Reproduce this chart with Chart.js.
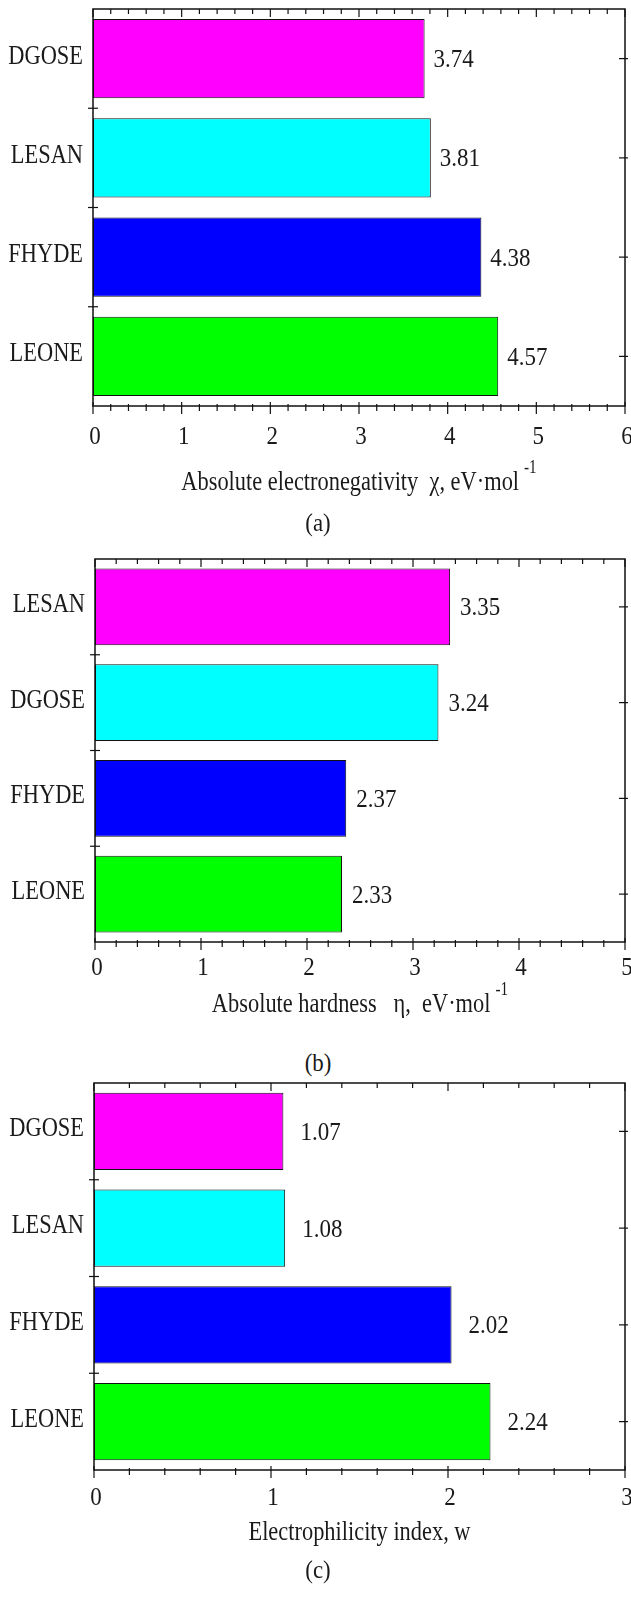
<!DOCTYPE html>
<html>
<head>
<meta charset="utf-8">
<script src="https://cdn.jsdelivr.net/npm/chart.js@4/dist/chart.umd.min.js"></script>
<style>
  body { margin: 0; background: #fff; width: 631px; height: 1606px; position: relative; overflow: hidden; }
  .painel { position: absolute; left: 0; width: 631px; }
  .legenda { position: absolute; left: 0; width: 636px; text-align: center; font: 26px "Liberation Serif", serif; line-height: 28px; color: #1a1a1a; transform: scaleX(0.88); }
</style>
</head>
<body>
<div class="painel" style="top:0px;height:510px"><canvas id="chartA"></canvas></div>
<div class="legenda" style="top:509px">(a)</div>
<div class="painel" style="top:530px;height:500px"><canvas id="chartB"></canvas></div>
<div class="legenda" style="top:1049px">(b)</div>
<div class="painel" style="top:1060px;height:500px"><canvas id="chartC"></canvas></div>
<div class="legenda" style="top:1556px">(c)</div>

<script>
// Dados dos tres graficos
var categoriasA = ["DGOSE", "LESAN", "FHYDE", "LEONE"];
var valoresA = [3.74, 3.81, 4.38, 4.57];
var maximoA = 6;

var categoriasB = ["LESAN", "DGOSE", "FHYDE", "LEONE"];
var valoresB = [3.35, 3.24, 2.37, 2.33];
var maximoB = 5;

var categoriasC = ["DGOSE", "LESAN", "FHYDE", "LEONE"];
var valoresC = [1.07, 1.08, 2.02, 2.24];
var maximoC = 3;

var passoMenor = 0.2;
var cores = ["#ff00ff", "#00ffff", "#0000ff", "#00ff00"];
var fonte = "'Liberation Serif', 'Times New Roman', serif";
var corTexto = "#1a1a1a";

function ehInteiro(v) {
  return Math.abs(v - Math.round(v)) < 1e-6;
}

// Texto estreito (a fonte do original e comprimida na horizontal)
function escreverTexto(ctx, texto, x, y, tamanho, escalaX, alinhamento) {
  ctx.save();
  ctx.font = tamanho + "px " + fonte;
  ctx.fillStyle = corTexto;
  ctx.textAlign = alinhamento;
  ctx.textBaseline = "middle";
  ctx.translate(x, y);
  ctx.scale(escalaX, 1);
  ctx.fillText(texto, 0, 0);
  ctx.restore();
}

function larguraTexto(ctx, texto, tamanho, escalaX) {
  ctx.save();
  ctx.font = tamanho + "px " + fonte;
  var w = ctx.measureText(texto).width * escalaX;
  ctx.restore();
  return w;
}

// Moldura com marcas de escala (topo, base, esquerda e direita)
var moldura = {
  id: "moldura",
  afterDraw: function (chart) {
    var ctx = chart.ctx;
    var area = chart.chartArea;
    var x = chart.scales.x;
    var y = chart.scales.y;

    function linha(x1, y1, x2, y2) {
      ctx.beginPath();
      ctx.moveTo(x1, y1);
      ctx.lineTo(x2, y2);
      ctx.stroke();
    }

    ctx.save();
    ctx.strokeStyle = "#111";
    ctx.lineWidth = 1.5;
    ctx.strokeRect(area.left, area.top, area.right - area.left, area.bottom - area.top);

    ctx.lineWidth = 1.2;
    x.ticks.forEach(function (t) {
      var px = x.getPixelForValue(t.value);
      var maior = ehInteiro(t.value);
      linha(px, area.top, px, area.top + (maior ? 8 : 5));
      linha(px, area.bottom - (maior ? 4 : 2), px, area.bottom + (maior ? 8 : 5));
    });

    for (var i = 0; i < y.ticks.length; i++) {
      var cy = y.getPixelForTick(i);
      linha(area.right - 6, cy, area.right + 3, cy);
      if (i > 0) {
        var limite = (y.getPixelForTick(i - 1) + cy) / 2;
        linha(area.left - 5, limite, area.left + 5, limite);
      }
    }
    ctx.restore();
  },
};

// Rotulos dos eixos (numeros e nomes)
var rotulosEixos = {
  id: "rotulosEixos",
  afterDraw: function (chart, args, opcoes) {
    var ctx = chart.ctx;
    var area = chart.chartArea;
    var x = chart.scales.x;
    var y = chart.scales.y;

    x.ticks.forEach(function (t) {
      if (ehInteiro(t.value)) {
        escreverTexto(ctx, String(Math.round(t.value)), x.getPixelForValue(t.value) + 2,
          area.bottom + opcoes.rotulos, 25, 0.92, "center");
      }
    });

    chart.data.labels.forEach(function (nome, i) {
      escreverTexto(ctx, nome, area.left - 10, y.getPixelForTick(i) - 2, 27, 0.83, "right");
    });
  },
};

// Valores escritos ao lado das barras
var rotulosValores = {
  id: "rotulosValores",
  afterDatasetsDraw: function (chart, args, opcoes) {
    var ctx = chart.ctx;
    var meta = chart.getDatasetMeta(0);
    var dados = chart.data.datasets[0].data;
    meta.data.forEach(function (barra, i) {
      escreverTexto(ctx, dados[i].toFixed(2), barra.x + opcoes.distancia, barra.y + 2, 25, 0.92, "left");
    });
  },
};

// Titulo do eixo x com expoente
var tituloEixo = {
  id: "tituloEixo",
  afterDraw: function (chart, args, opcoes) {
    var ctx = chart.ctx;
    var area = chart.chartArea;
    var wTexto = larguraTexto(ctx, opcoes.texto, 28, 0.8);
    var wExp = opcoes.expoente ? larguraTexto(ctx, opcoes.expoente, 19, 0.8) + 5 : 0;
    var inicio = (area.left + area.right) / 2 - (wTexto + wExp) / 2;
    var yTexto = area.bottom + opcoes.deslocamento;
    escreverTexto(ctx, opcoes.texto, inicio, yTexto, 28, 0.8, "left");
    if (opcoes.expoente) {
      escreverTexto(ctx, opcoes.expoente, inicio + wTexto + 5, yTexto - 15, 19, 0.8, "left");
    }
  },
};

function plotarGrafico(idCanvas, categorias, valores, maximo, titulo, expoente, ajuste) {
  var ctx = document.getElementById(idCanvas).getContext("2d");

  new Chart(ctx, {
    type: "bar",
    data: {
      labels: categorias,
      datasets: [
        {
          data: valores,
          backgroundColor: cores,
          borderColor: "#111",
          borderWidth: 1,
          borderSkipped: false,
          categoryPercentage: 0.8,
          barPercentage: 1,
        },
      ],
    },
    options: {
      indexAxis: "y",
      responsive: true,
      maintainAspectRatio: false,
      animation: false,
      layout: {
        padding: { top: ajuste.topo, right: 6, left: 0, bottom: 0 },
      },
      plugins: {
        legend: { display: false },
        tooltip: { enabled: false },
        rotulosValores: { distancia: ajuste.distancia },
        rotulosEixos: { rotulos: ajuste.rotulos },
        tituloEixo: { texto: titulo, expoente: expoente, deslocamento: ajuste.titulo },
      },
      scales: {
        x: {
          min: 0,
          max: maximo,
          grid: { display: false, drawTicks: false },
          border: { display: false },
          ticks: { stepSize: passoMenor, autoSkip: false, display: false },
          afterFit: function (escala) {
            escala.height = ajuste.alturaX;
          },
        },
        y: {
          grid: { display: false, drawTicks: false },
          border: { display: false },
          ticks: { display: false },
          afterFit: function (escala) {
            escala.width = ajuste.esquerda;
          },
        },
      },
    },
    plugins: [moldura, rotulosEixos, rotulosValores, tituloEixo],
  });
}

plotarGrafico("chartA", categoriasA, valoresA, maximoA,
  "Absolute electronegativity  \u03C7, eV\u00B7mol", "-1",
  { topo: 9, esquerda: 93, alturaX: 104, rotulos: 31, titulo: 77, distancia: 9 });

plotarGrafico("chartB", categoriasB, valoresB, maximoB,
  "Absolute hardness   \u03B7,  eV\u00B7mol", "-1",
  { topo: 29, esquerda: 95, alturaX: 88, rotulos: 26, titulo: 63, distancia: 10 });

plotarGrafico("chartC", categoriasC, valoresC, maximoC,
  "Electrophilicity index, w", "",
  { topo: 23, esquerda: 94, alturaX: 90, rotulos: 28, titulo: 63, distancia: 17 });
</script>
</body>
</html>
